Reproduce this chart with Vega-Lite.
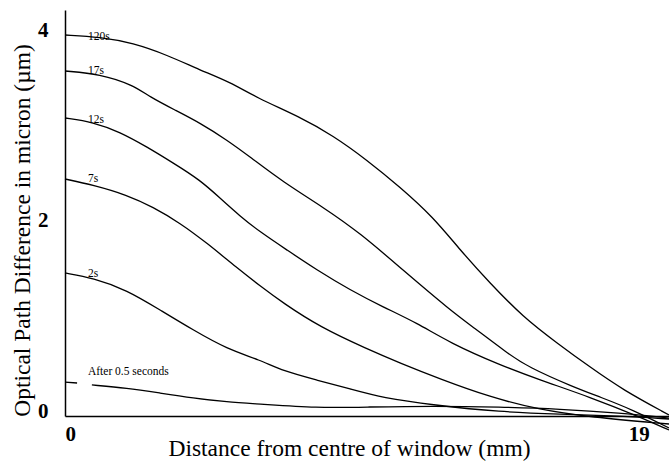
{
  "$schema": "https://vega.github.io/schema/vega-lite/v6.json",
  "width": 604,
  "height": 406,
  "autosize": {"type": "none"},
  "padding": {"left": 65, "top": 10, "right": 0, "bottom": 46},
  "background": "white",
  "config": {
    "view": {"stroke": null},
    "axis": {"grid": false, "ticks": false, "domainColor": "#000", "domainWidth": 1.5, "labelColor": "#000", "titleColor": "#000", "labelFont": "Liberation Serif", "titleFont": "Liberation Serif", "labelFontWeight": "bold", "labelFontSize": 21, "titleFontSize": 23.5, "titleFontWeight": "normal"}
  },
  "datasets": {
    "curves": [
      {"s": "120s", "x": 0, "y": 3.958}, {"s": "120s", "x": 1.16, "y": 3.937}, {"s": "120s", "x": 2.25, "y": 3.874}, {"s": "120s", "x": 3.38, "y": 3.747}, {"s": "120s", "x": 4.47, "y": 3.589}, {"s": "120s", "x": 5.46, "y": 3.463}, {"s": "120s", "x": 6.36, "y": 3.295}, {"s": "120s", "x": 7.78, "y": 3.095}, {"s": "120s", "x": 8.87, "y": 2.9}, {"s": "120s", "x": 10.0, "y": 2.642}, {"s": "120s", "x": 11.09, "y": 2.358}, {"s": "120s", "x": 12.19, "y": 2.042}, {"s": "120s", "x": 13.08, "y": 1.695}, {"s": "120s", "x": 14.07, "y": 1.347}, {"s": "120s", "x": 15.17, "y": 0.989}, {"s": "120s", "x": 16.29, "y": 0.716}, {"s": "120s", "x": 17.38, "y": 0.463}, {"s": "120s", "x": 18.48, "y": 0.221}, {"s": "120s", "x": 20.0, "y": -0.042},
      {"s": "17s", "x": 0, "y": 3.579}, {"s": "17s", "x": 1.16, "y": 3.547}, {"s": "17s", "x": 2.25, "y": 3.432}, {"s": "17s", "x": 2.81, "y": 3.305}, {"s": "17s", "x": 3.64, "y": 3.168}, {"s": "17s", "x": 4.47, "y": 3.032}, {"s": "17s", "x": 5.36, "y": 2.853}, {"s": "17s", "x": 6.13, "y": 2.674}, {"s": "17s", "x": 7.22, "y": 2.411}, {"s": "17s", "x": 8.54, "y": 2.147}, {"s": "17s", "x": 9.77, "y": 1.874}, {"s": "17s", "x": 11.19, "y": 1.484}, {"s": "17s", "x": 12.75, "y": 1.063}, {"s": "17s", "x": 13.51, "y": 0.884}, {"s": "17s", "x": 14.64, "y": 0.611}, {"s": "17s", "x": 15.33, "y": 0.463}, {"s": "17s", "x": 16.83, "y": 0.253}, {"s": "17s", "x": 17.72, "y": 0.147}, {"s": "17s", "x": 18.81, "y": 0.011}, {"s": "17s", "x": 20.0, "y": -0.179},
      {"s": "12s", "x": 0, "y": 3.084}, {"s": "12s", "x": 0.93, "y": 3.042}, {"s": "12s", "x": 1.82, "y": 2.937}, {"s": "12s", "x": 2.72, "y": 2.779}, {"s": "12s", "x": 3.58, "y": 2.611}, {"s": "12s", "x": 4.47, "y": 2.432}, {"s": "12s", "x": 5.13, "y": 2.242}, {"s": "12s", "x": 5.79, "y": 2.053}, {"s": "12s", "x": 6.46, "y": 1.884}, {"s": "12s", "x": 7.35, "y": 1.695}, {"s": "12s", "x": 8.34, "y": 1.484}, {"s": "12s", "x": 9.44, "y": 1.274}, {"s": "12s", "x": 10.53, "y": 1.095}, {"s": "12s", "x": 11.66, "y": 0.926}, {"s": "12s", "x": 12.75, "y": 0.716}, {"s": "12s", "x": 14.4, "y": 0.484}, {"s": "12s", "x": 15.73, "y": 0.326}, {"s": "12s", "x": 17.38, "y": 0.147}, {"s": "12s", "x": 19.04, "y": -0.063}, {"s": "12s", "x": 20.0, "y": -0.2},
      {"s": "7s", "x": 0, "y": 2.442}, {"s": "7s", "x": 0.93, "y": 2.379}, {"s": "7s", "x": 2.05, "y": 2.274}, {"s": "7s", "x": 2.91, "y": 2.147}, {"s": "7s", "x": 3.81, "y": 1.979}, {"s": "7s", "x": 4.7, "y": 1.768}, {"s": "7s", "x": 5.7, "y": 1.505}, {"s": "7s", "x": 6.46, "y": 1.316}, {"s": "7s", "x": 7.22, "y": 1.137}, {"s": "7s", "x": 8.44, "y": 0.884}, {"s": "7s", "x": 10.0, "y": 0.653}, {"s": "7s", "x": 11.09, "y": 0.505}, {"s": "7s", "x": 12.42, "y": 0.337}, {"s": "7s", "x": 14.07, "y": 0.147}, {"s": "7s", "x": 15.73, "y": 0.011}, {"s": "7s", "x": 17.38, "y": -0.063}, {"s": "7s", "x": 20.0, "y": -0.137},
      {"s": "2s", "x": 0, "y": 1.453}, {"s": "2s", "x": 0.93, "y": 1.4}, {"s": "2s", "x": 2.05, "y": 1.274}, {"s": "2s", "x": 3.15, "y": 1.063}, {"s": "2s", "x": 4.24, "y": 0.853}, {"s": "2s", "x": 5.36, "y": 0.653}, {"s": "2s", "x": 6.46, "y": 0.537}, {"s": "2s", "x": 7.22, "y": 0.421}, {"s": "2s", "x": 8.34, "y": 0.326}, {"s": "2s", "x": 9.44, "y": 0.232}, {"s": "2s", "x": 10.53, "y": 0.137}, {"s": "2s", "x": 12.19, "y": 0.063}, {"s": "2s", "x": 14.4, "y": -0.011}, {"s": "2s", "x": 16.39, "y": -0.032}, {"s": "2s", "x": 18.38, "y": -0.053}, {"s": "2s", "x": 20.0, "y": -0.084},
      {"s": "0.5s", "x": 0, "y": 0.305}, {"s": "0.5s", "x": 0.4, "y": 0.295}, {"s": "0.5s", "x": 0.65, "y": null}, {"s": "0.5s", "x": 0.89, "y": 0.274}, {"s": "0.5s", "x": 2.05, "y": 0.242}, {"s": "0.5s", "x": 3.15, "y": 0.189}, {"s": "0.5s", "x": 4.24, "y": 0.137}, {"s": "0.5s", "x": 5.36, "y": 0.095}, {"s": "0.5s", "x": 6.46, "y": 0.074}, {"s": "0.5s", "x": 8.34, "y": 0.032}, {"s": "0.5s", "x": 10.0, "y": 0.042}, {"s": "0.5s", "x": 12.19, "y": 0.053}, {"s": "0.5s", "x": 14.4, "y": 0.042}, {"s": "0.5s", "x": 16.39, "y": 0.021}, {"s": "0.5s", "x": 18.38, "y": -0.021}, {"s": "0.5s", "x": 20.0, "y": -0.074}
    ],
    "labels": [
      {"t": "120s", "x": 0.76, "y": 3.905},
      {"t": "17s", "x": 0.76, "y": 3.547},
      {"t": "12s", "x": 0.76, "y": 3.032},
      {"t": "7s", "x": 0.76, "y": 2.41},
      {"t": "2s", "x": 0.76, "y": 1.41},
      {"t": "After 0.5 seconds", "x": 0.76, "y": 0.379}
    ]
  },
  "layer": [
    {
      "data": {"name": "curves"},
      "mark": {"type": "line", "color": "#000", "strokeWidth": 1.3, "interpolate": "basis"},
      "encoding": {
        "x": {"field": "x", "type": "quantitative", "scale": {"domain": [0, 20], "nice": false, "zero": false},
              "axis": {"values": [0, 19], "format": "d", "title": "Distance from centre of window (mm)", "labelPadding": 7, "titleX": 284, "titleY": 39, "titleBaseline": "alphabetic", "titleAlign": "center"}},
        "y": {"field": "y", "type": "quantitative", "scale": {"domain": [-0.0526, 4.221], "nice": false, "zero": false},
              "axis": {"values": [0, 2, 4], "format": "d", "title": "Optical Path Difference in micron (µm)", "labelPadding": 17, "titleX": -43, "titleY": 220, "titleAngle": 270, "titleAlign": "center", "titleBaseline": "middle"}},
        "detail": {"field": "s", "type": "nominal"}
      }
    },
    {
      "data": {"name": "labels"},
      "mark": {"type": "text", "align": "left", "baseline": "alphabetic", "font": "Liberation Serif", "fontSize": 11.5, "color": "#000"},
      "encoding": {
        "x": {"field": "x", "type": "quantitative"},
        "y": {"field": "y", "type": "quantitative"},
        "text": {"field": "t", "type": "nominal"}
      }
    }
  ]
}
